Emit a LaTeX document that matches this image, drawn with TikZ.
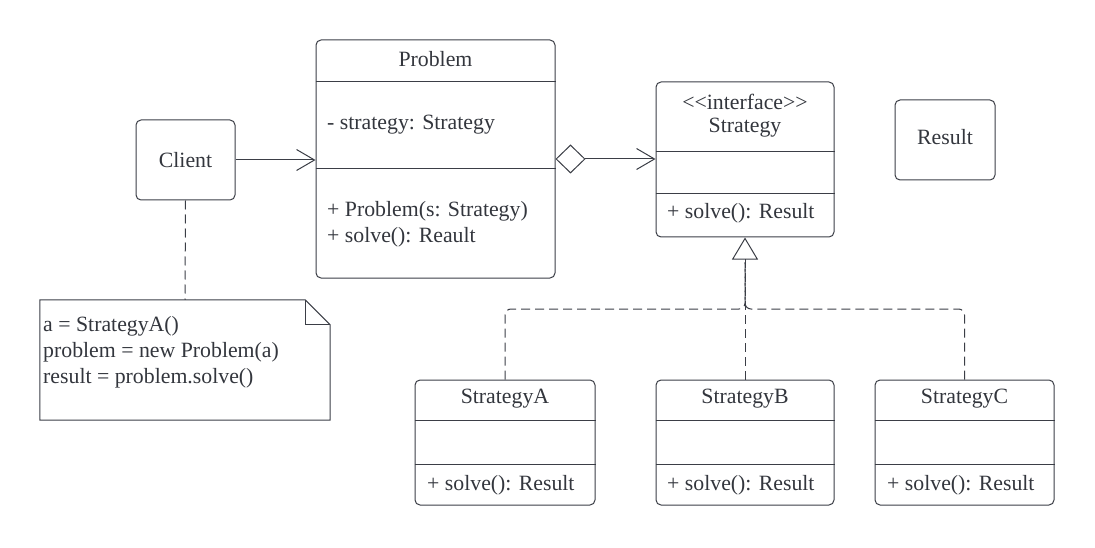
\documentclass[tikz,border=0pt]{standalone}
\usepackage{fontspec}
\setmainfont{Liberation Serif}
\usetikzlibrary{arrows.meta}
\definecolor{ln}{HTML}{3B3E46}
\definecolor{tx}{HTML}{33363D}
\begin{document}
\begin{tikzpicture}[x=1pt,y=-1pt,
  box/.style={draw=ln, line width=1pt, rounded corners=5pt, inner sep=0pt},
  txt/.style={text=tx, font=\fontsize{21.8}{26}\selectfont, inner sep=0pt},
  divline/.style={draw=ln, line width=1pt},
  conn/.style={draw=ln, line width=1pt},
  dashconn/.style={draw=ln, line width=1pt, dash pattern=on 9pt off 5pt},
  openhead/.style={-{Straight Barb[length=18pt,width=21pt,line width=1pt]}}
]
\useasboundingbox (0,0) rectangle (1095,548);

% Client
\node[box, minimum width=99pt, minimum height=80pt] (client) at (185.5,160) {};
\node[txt] (clientlbl) at (185.5,160) {Client};

% Problem
\node[box, minimum width=239pt, minimum height=238pt] (problem) at (435.5,159) {};
\node[txt] (problemlbl) at (435.5,59) {Problem};
\draw[divline] (problem.west |- 0,82) -- (problem.east |- 0,82);
\draw[divline] (problem.west |- 0,169) -- (problem.east |- 0,169);
\node[txt, anchor=west] (pattr) at (327,125) {- strategy: Strategy};
\node[txt, anchor=west] (pop1) at (327,211) {+ Problem(s: Strategy)};
\node[txt, anchor=west] (pop2) at (327,237) {+ solve(): Reault};

% Strategy interface
\node[box, minimum width=178pt, minimum height=155pt] (strategy) at (745,159.5) {};
\node[txt] (stereo) at (745,102) {<\kern0pt<interface>\kern0pt>};
\node[txt] (strategylbl) at (745,128) {Strategy};
\draw[divline] (strategy.west |- 0,152) -- (strategy.east |- 0,152);
\draw[divline] (strategy.west |- 0,194) -- (strategy.east |- 0,194);
\node[txt, anchor=west] (sop) at (667,213) {+ solve(): Result};

% Result
\node[box, minimum width=100pt, minimum height=80pt] (result) at (945,140) {};
\node[txt] (resultlbl) at (945,137) {Result};

% Concrete strategies
\node[box, minimum width=180pt, minimum height=125pt] (sa) at (505,442.5) {};
\node[txt] (salbl) at (505,399) {StrategyA};
\draw[divline] (sa.west |- 0,420) -- (sa.east |- 0,420);
\draw[divline] (sa.west |- 0,464) -- (sa.east |- 0,464);
\node[txt, anchor=west] (saop) at (427,485) {+ solve(): Result};

\node[box, minimum width=178pt, minimum height=125pt] (sb) at (745,442.5) {};
\node[txt] (sblbl) at (745,399) {StrategyB};
\draw[divline] (sb.west |- 0,420) -- (sb.east |- 0,420);
\draw[divline] (sb.west |- 0,464) -- (sb.east |- 0,464);
\node[txt, anchor=west] (sbop) at (667,485) {+ solve(): Result};

\node[box, minimum width=179pt, minimum height=125pt] (sc) at (964.5,442.5) {};
\node[txt] (sclbl) at (964.5,399) {StrategyC};
\draw[divline] (sc.west |- 0,420) -- (sc.east |- 0,420);
\draw[divline] (sc.west |- 0,464) -- (sc.east |- 0,464);
\node[txt, anchor=west] (scop) at (887,485) {+ solve(): Result};

% Note
\node[minimum width=290pt, minimum height=120pt, inner sep=0pt] (note) at (185,360) {};
\draw[conn] (note.north west) -- ([xshift=-25pt]note.north east) -- ([yshift=-25pt]note.north east) -- (note.south east) -- (note.south west) -- cycle;
\draw[conn] ([xshift=-25pt]note.north east) -- ([xshift=-25pt,yshift=-25pt]note.north east) -- ([yshift=-25pt]note.north east);
\node[txt, anchor=west, align=left] (notetext) at (43,352) {a = StrategyA()\\problem = new Problem(a)\\result = problem.solve()};

% Connectors
\draw[dashconn] (client.south) -- (note.north);
\draw[conn, openhead] (client.east) -- (client.east -| problem.west);
\draw[conn, {Diamond[open,length=30pt,width=29pt,line width=1pt]}-{Straight Barb[length=18pt,width=21pt,line width=1pt]}] (problem.east) -- (problem.east -| strategy.west);

\coordinate (tribase) at (745,262);
\coordinate (junction) at (745,309);
\draw[dashconn, -{Triangle[open,length=22pt,width=26pt,line width=1pt]}] (sb.north) -- (strategy.south);
\draw[dashconn, rounded corners=6pt] (sa.north) |- (junction) -- (tribase);
\draw[dashconn, rounded corners=6pt] (sc.north) |- (junction) -- (tribase);
\end{tikzpicture}
\end{document}
